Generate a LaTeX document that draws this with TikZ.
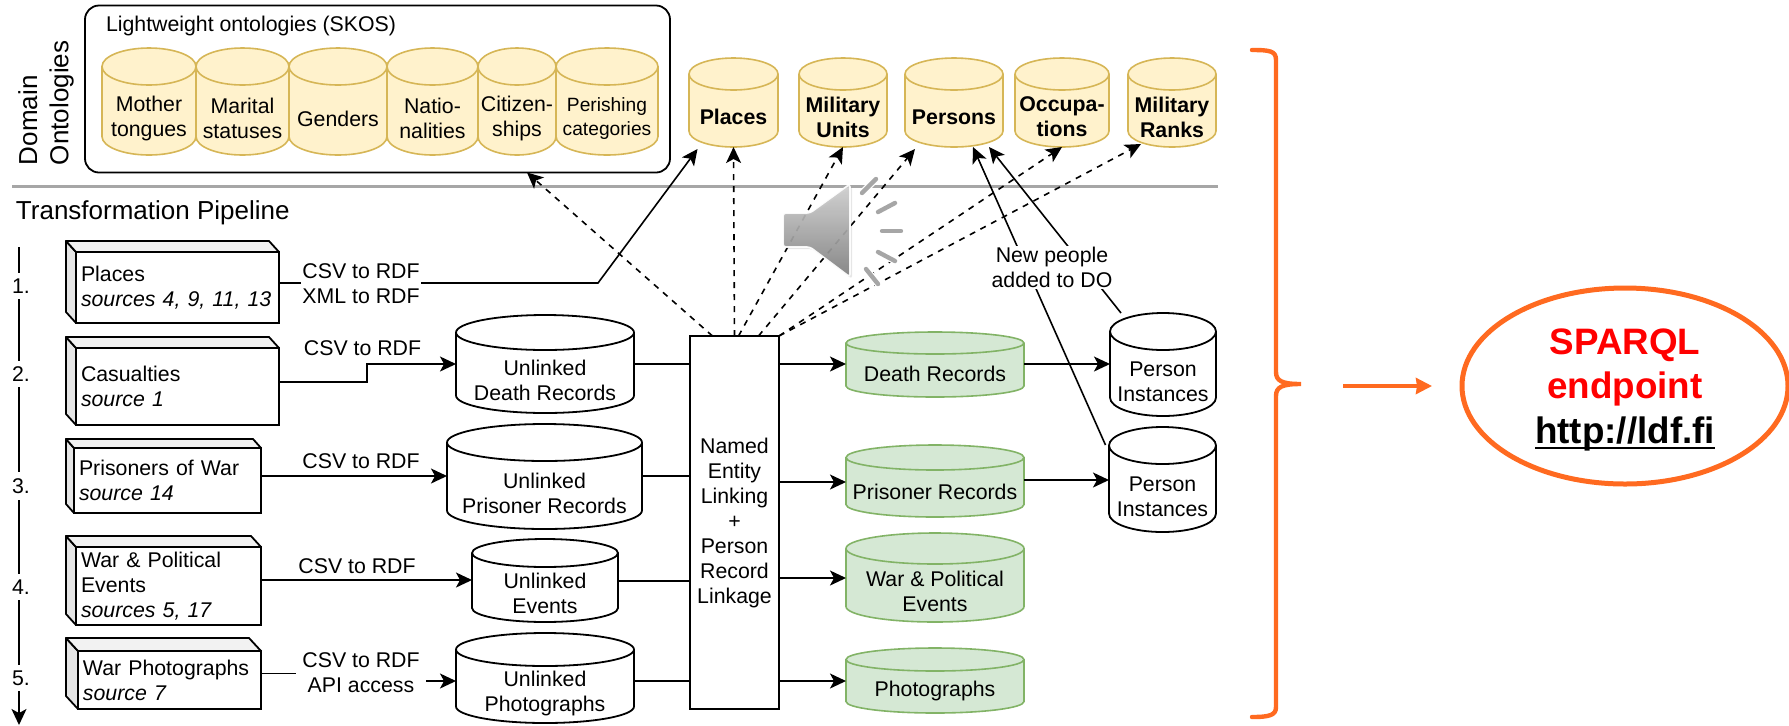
\documentclass[tikz,border=0pt]{standalone}
\usepackage{fontspec}
\setmainfont{Liberation Sans}
\usetikzlibrary{arrows.meta}
\usetikzlibrary{calc}
\usetikzlibrary{shadows}
\usetikzlibrary{shapes.geometric}

\definecolor{ontofill}{HTML}{FFF2CC}
\definecolor{ontoline}{HTML}{D6B656}
\definecolor{linkfill}{HTML}{D5E8D4}
\definecolor{linkline}{HTML}{82B366}
\definecolor{endorange}{HTML}{FF6A20}

\tikzset{
  every node/.style={inner sep=0pt, outer sep=0pt, align=center, font=\fontsize{10.65}{12.5}\selectfont},
  plaincyl/.style={draw=black, fill=white, line width=0.9pt},
  ontocyl/.style={draw=ontoline, fill=ontofill, line width=0.8pt},
  linkcyl/.style={draw=linkline, fill=linkfill, line width=0.8pt},
  boldtext/.style={font=\fontsize{10.65}{12.5}\selectfont\bfseries},
  smalltext/.style={font=\fontsize{9.6}{11.8}\selectfont},
  srcnode/.style={draw=black, fill=white, line width=0.9pt, anchor=north west, inner xsep=2.5pt, align=left},
  srcside/.style={draw=black, line width=0.9pt, line join=round},
  textlab/.style={fill=white, inner ysep=0.5pt, inner xsep=0.5pt},
  steplab/.style={fill=white, inner ysep=3pt, inner xsep=1.5pt},
  solidarrow/.style={draw=black, line width=0.8pt, -{Stealth[length=8pt,width=7.5pt,inset=2pt]}},
  dasharrow/.style={solidarrow, dashed},
  plainline/.style={draw=black, line width=0.8pt},
  spkwave/.style={draw=white, double=black!35, line width=0.6pt, double distance=2.2pt, line cap=round},
  endline/.style={draw=endorange, line width=2.2pt}
}

% name, left, top, width, height, depth x, depth y, text
\newcommand{\srcbox}[8]{
  \node[srcnode, minimum width=#4*0.5pt, minimum height=#5*0.5pt, text width={(#4-10)*0.5pt}] (#1) at (#2, #3) {#8};
  \draw[srcside, fill=black!10] (#1.north west) -- ++(-#6, -#7) -- ($(#1.south west)+(-#6, -#7)$) -- (#1.south west) -- cycle;
  \draw[srcside, fill=black!5] (#1.north west) -- ++(-#6, -#7) -- ($(#1.north east)+(-#6, -#7)$) -- (#1.north east) -- cycle;
}
% [text style], style, name, centre x, bottom, width, height, cap, text
\newcommand{\dbcyl}[9][]{
  \node[minimum width=#6*0.5pt, minimum height=#7*0.5pt, anchor=south] (#3) at (#4, #5) {};
  \draw[#2] ($(#3.north west)+(0, {#8/2})$) -- ++(0, {#7-#8}) arc[start angle=180, end angle=360, x radius=#6*0.25pt, y radius=#8*0.25pt] -- ++(0, {#8-#7}) arc[start angle=0, end angle=180, x radius=#6*0.25pt, y radius=#8*0.25pt] -- cycle;
  \draw[#2, fill=none] ($(#3.north west)+(0, {#8/2})$) arc[start angle=180, end angle=360, x radius=#6*0.25pt, y radius=#8*0.25pt];
  \node[#1, yshift={-(#8/2-1.5)*0.5pt}] (#3text) at (#3.center) {#9};
}
\newcommand{\heavyul}[1]{\smash{\vtop{\hbox{\smash{#1}}\kern2pt\hrule height 1pt}}}

\begin{document}
\begin{tikzpicture}[x=0.5pt, y=-0.5pt]
  \path[use as bounding box] (0, 0) rectangle (1789, 725);

  \node[rotate=90, anchor=west, align=left, font=\fontsize{13}{15.6}\selectfont] (domain) at (46, 165) {Domain\\Ontologies};
  \draw[draw=black!35, line width=1.5pt] (12, 186) -- (1218, 186);
  \node[anchor=west, font=\fontsize{13}{15.6}\selectfont] (pipeline) at (16, 213) {Transformation Pipeline};

  % lightweight ontologies
  \node[draw=black, line width=0.9pt, rounded corners=7pt, minimum width=292.5pt, minimum height=83.5pt] (light) at (377.5, 89) {};
  \node[anchor=west] (lighttitle) at (106, 26) {Lightweight ontologies (SKOS)};
  \dbcyl{ontocyl}{tongues}{149}{155}{94}{107}{37}{Mother\\tongues}
  \dbcyl{ontocyl}{marital}{242.5}{155}{93}{107}{37}{Marital\\statuses}
  \dbcyl{ontocyl}{genders}{338}{155}{98}{107}{37}{Genders}
  \dbcyl{ontocyl}{nations}{432.5}{155}{91}{107}{37}{Natio-\\nalities}
  \dbcyl{ontocyl}{citizens}{517}{155}{78}{107}{37}{Citizen-\\ships}
  \dbcyl[smalltext]{ontocyl}{perishing}{607}{155}{102}{107}{37}{Perishing\\categories}

  % domain ontologies
  \dbcyl[boldtext]{ontocyl}{places}{733.5}{147}{89}{89}{32}{Places}
  \dbcyl[boldtext]{ontocyl}{units}{843}{147}{88}{89}{32}{Military\\Units}
  \dbcyl[boldtext]{ontocyl}{persons}{954}{147}{98}{89}{32}{Persons}
  \dbcyl[boldtext]{ontocyl}{occupations}{1062}{147}{94}{89}{32}{Occupa-\\tions}
  \dbcyl[boldtext]{ontocyl}{ranks}{1172}{147}{88}{89}{32}{Military\\Ranks}

  % sources
  \srcbox{srcplaces}{76}{252}{203}{71}{10}{11}{Places\\\textit{sources 4, 9, 11, 13}}
  \srcbox{srccasualties}{76}{348}{203}{77}{10}{11}{Casualties\\\textit{source 1}}
  \srcbox{srcprisoners}{74}{448}{187}{65}{8}{9}{Prisoners of War\\\textit{source 14}}
  \srcbox{srcevents}{76}{547}{185}{78}{10}{11}{War \& Political\\Events\\\textit{sources 5, 17}}
  \srcbox{srcphotos}{78}{651}{183}{58}{12}{13}{War Photographs\\\textit{source 7}}

  % unlinked data
  \dbcyl{plaincyl}{undeath}{545}{413}{178}{98}{35}{Unlinked\\Death Records}
  \dbcyl{plaincyl}{unprisoner}{544.5}{529}{195}{105}{37}{Unlinked\\Prisoner Records}
  \dbcyl{plaincyl}{unevents}{545}{622}{146}{83}{28}{Unlinked\\Events}
  \dbcyl{plaincyl}{unphotos}{545}{723}{178}{90}{33}{Unlinked\\Photographs}

  \node[draw=black, fill=white, line width=0.9pt, minimum width=44.5pt, minimum height=186.5pt] (linkage) at (734.5, 522.5) {Named\\Entity\\Linking\\+\\Person\\Record\\Linkage};

  % linked data
  \dbcyl{linkcyl}{death}{935}{397}{178}{65}{22}{Death Records}
  \dbcyl{linkcyl}{prisoner}{935}{517}{178}{72}{25}{Prisoner Records}
  \dbcyl{linkcyl}{warevents}{935}{622}{178}{89}{31}{War \& Political\\Events}
  \dbcyl{linkcyl}{photos}{935}{713}{178}{65}{23}{Photographs}
  \dbcyl{plaincyl}{personsa}{1163}{416}{106}{103}{37}{Person\\Instances}
  \dbcyl{plaincyl}{personsb}{1162.5}{532}{107}{105}{37}{Person\\Instances}

  \coordinate (rowa) at (0, 364);
  \coordinate (rowb) at (0, 476);
  \coordinate (rowc) at (0, 581);
  \coordinate (rowd) at (0, 681);

  % dashed links to ontologies
  \draw[dasharrow] ([xshift=-11pt]linkage.north) -- ([xshift=74.75pt]light.south);
  \draw[dasharrow] (linkage.north) -- (places.south);
  \draw[dasharrow] ([xshift=2pt]linkage.north) -- (units.south);
  \draw[dasharrow] ([xshift=12pt]linkage.north) -- ([xshift=-19.5pt, yshift=-1pt]persons.south);
  \draw[dasharrow] (linkage.north east) -- (occupations.south);
  \draw[dasharrow] (linkage.north east) -- ([xshift=-15.5pt, yshift=1.5pt]ranks.south);

  % pipeline
  \draw[solidarrow] ([yshift=2.25pt]srcplaces.east) -- (598, 283) -- ([xshift=-18pt, yshift=-1pt]places.south);
  \draw[solidarrow] ([yshift=2.25pt]srccasualties.east) -| (367, 364) -- (undeath.west |- rowa);
  \draw[solidarrow] (srcprisoners.east |- rowb) -- (unprisoner.west |- rowb);
  \draw[solidarrow] (srcevents.east |- 0, 580) -- (unevents.west |- 0, 580);
  \draw[solidarrow] ([yshift=3.25pt]srcphotos.east) -| (358, 681) -- (unphotos.west |- rowd);
  \draw[plainline] (undeath.east |- rowa) -- (linkage.west |- rowa);
  \draw[plainline] (unprisoner.east |- rowb) -- (linkage.west |- rowb);
  \draw[plainline] (unevents.east |- rowc) -- (linkage.west |- rowc);
  \draw[plainline] (unphotos.east |- rowd) -- (linkage.west |- rowd);
  \draw[solidarrow] (linkage.east |- rowa) -- (death.west |- rowa);
  \draw[solidarrow] (linkage.east |- 0, 482) -- (prisoner.west |- 0, 482);
  \draw[solidarrow] (linkage.east |- 0, 578) -- (warevents.west |- 0, 578);
  \draw[solidarrow] (linkage.east |- rowd) -- (photos.west |- rowd);
  \draw[solidarrow] (death.east |- rowa) -- (personsa.west |- rowa);
  \draw[solidarrow] (prisoner.east |- 0, 480) -- (personsb.west |- 0, 480);
  \draw[solidarrow] ([xshift=-21pt]personsa.north) -- ([xshift=17.5pt]persons.south);
  \draw[solidarrow] ([xshift=-28.5pt, yshift=-9pt]personsb.north) -- ([xshift=9.5pt]persons.south);

  \node[textlab] (labplaces) at (361, 283.5) {CSV to RDF\\XML to RDF};
  \node[textlab] (labcasualties) at (362.5, 348) {CSV to RDF};
  \node[textlab] (labprisoners) at (361, 461) {CSV to RDF};
  \node[textlab] (labevents) at (357, 566) {CSV to RDF};
  \node[textlab, inner xsep=3pt] (labphotos) at (361, 672.5) {CSV to RDF\\API access};
  \node[textlab, inner xsep=2pt] (labpeople) at (1052, 267.5) {New people\\added to DO};

  % numbered steps
  \coordinate (stepstart) at (19, 247);
  \coordinate (stepend) at (19, 725);
  \draw[solidarrow] (stepstart) -- (stepend);
  \node[steplab] (stepa) at (21, 286) {1.};
  \node[steplab] (stepb) at (21, 374) {2.};
  \node[steplab] (stepc) at (21, 486) {3.};
  \node[steplab] (stepd) at (21, 587) {4.};
  \node[steplab] (stepe) at (21, 678) {5.};

  % speaker
  \draw[draw=white, line width=0.8pt, top color=black!18, bottom color=black!50, opacity=0.92, rounded corners=1.5pt, drop shadow={opacity=0.2, shadow xshift=1pt, shadow yshift=-1pt}] (783, 213) -- (810, 213) -- (850, 184) -- (850, 277) -- (810, 247) -- (783, 247) -- cycle;
  \draw[spkwave] (876, 179) -- (862, 193);
  \draw[spkwave] (895, 203) -- (878, 212);
  \draw[spkwave] (882, 231) -- (901, 231);
  \draw[spkwave] (878, 252) -- (895, 261);
  \draw[spkwave] (866, 269) -- (878, 284);

  % endpoint
  \draw[endline, line cap=round] (1252, 50) .. controls (1270, 50) and (1276, 51) .. (1276, 60) -- (1276, 372) .. controls (1276, 381) and (1282, 384) .. (1301, 384) .. controls (1282, 384) and (1276, 387) .. (1276, 396) -- (1276, 707) .. controls (1276, 715) and (1270, 717) .. (1252, 717);
  \node[draw=endorange, line width=2.5pt, ellipse, minimum width=163pt, minimum height=98pt, font=\fontsize{18.4}{22.2}\selectfont\bfseries] (endpoint) at (1625, 386) {\textcolor{red}{SPARQL}\\\textcolor{red}{endpoint}\\\heavyul{http://ldf.fi}};
  \coordinate (bracetip) at (1343, 386);
  \draw[draw=endorange, line width=1.8pt, -{Stealth[length=8pt,width=8pt,inset=0.5pt]}] (bracetip) -- ([xshift=-15pt]endpoint.west);
\end{tikzpicture}
\end{document}
